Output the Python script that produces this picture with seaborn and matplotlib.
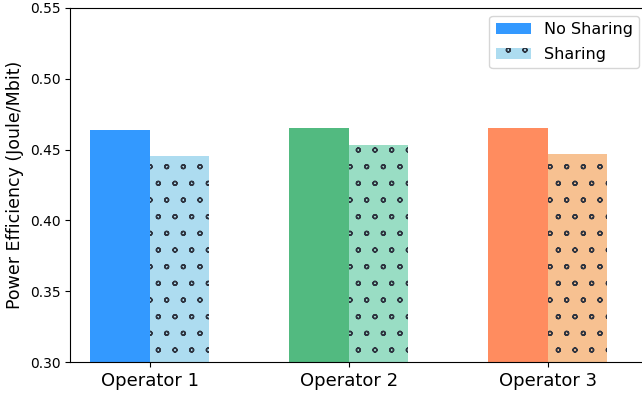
import matplotlib
matplotlib.use("Agg")
import matplotlib.pyplot as plt
import matplotlib.hatch as mhatch
from matplotlib.patches import Patch
import seaborn as sns
import pandas as pd

operators = ["Operator 1", "Operator 2", "Operator 3"]
schemes = ["No Sharing", "Sharing"]
no_sharing = [0.464, 0.465, 0.465]
sharing = [0.4455, 0.453, 0.447]

solid_colors = ["#3399FF", "#52BA80", "#FF8C5F"]
light_colors = ["#ADDCF0", "#99DDC4", "#F7C191"]

df = pd.DataFrame({
    "operator": operators * 2,
    "scheme": [schemes[0]] * 3 + [schemes[1]] * 3,
    "eff": no_sharing + sharing,
})

# finer ring hatch for the "Sharing" bars
mhatch.SmallCircles.size = 0.12
plt.rcParams["hatch.linewidth"] = 1.0

fig = plt.figure(figsize=(6.42, 3.97), dpi=100)
ax = fig.add_axes([0.109, 0.088, 0.899, 0.892])

sns.barplot(data=df, x="operator", y="eff", hue="scheme", order=operators,
            hue_order=schemes, width=0.6, errorbar=None, ax=ax, legend=False,
            saturation=1)

bars = ax.patches
for i, p in enumerate(bars[:3]):
    p.set_facecolor(solid_colors[i])
    p.set_edgecolor("none")
for i, p in enumerate(bars[3:6]):
    p.set_facecolor(light_colors[i])
    p.set_edgecolor("#2e3440")
    p.set_linewidth(0)
    p.set_hatch("o")

yticks = [0.30, 0.35, 0.40, 0.45, 0.50, 0.55]
ax.set_ylim(0.30, 0.55)
ax.set_xlim(-0.4, 2.5)
ax.set_yticks(yticks)
ax.set_yticklabels([f"{v:.2f}" for v in yticks], fontsize=10)
ax.tick_params(axis="x", labelsize=13, length=3.5)
ax.tick_params(axis="y", length=3.5)
ax.set_xlabel("")
ax.set_ylabel("Power Efficiency (Joule/Mbit)", fontsize=12.5)

handles = [
    Patch(facecolor=solid_colors[0], edgecolor="none", label=schemes[0]),
    Patch(facecolor=light_colors[0], edgecolor="#2e3440", linewidth=0, hatch="o", label=schemes[1]),
]
ax.legend(handles=handles, loc="upper right", fontsize=11.5, labelspacing=0.6,
          handlelength=2.2)

fig.savefig("out.png", dpi=100)
